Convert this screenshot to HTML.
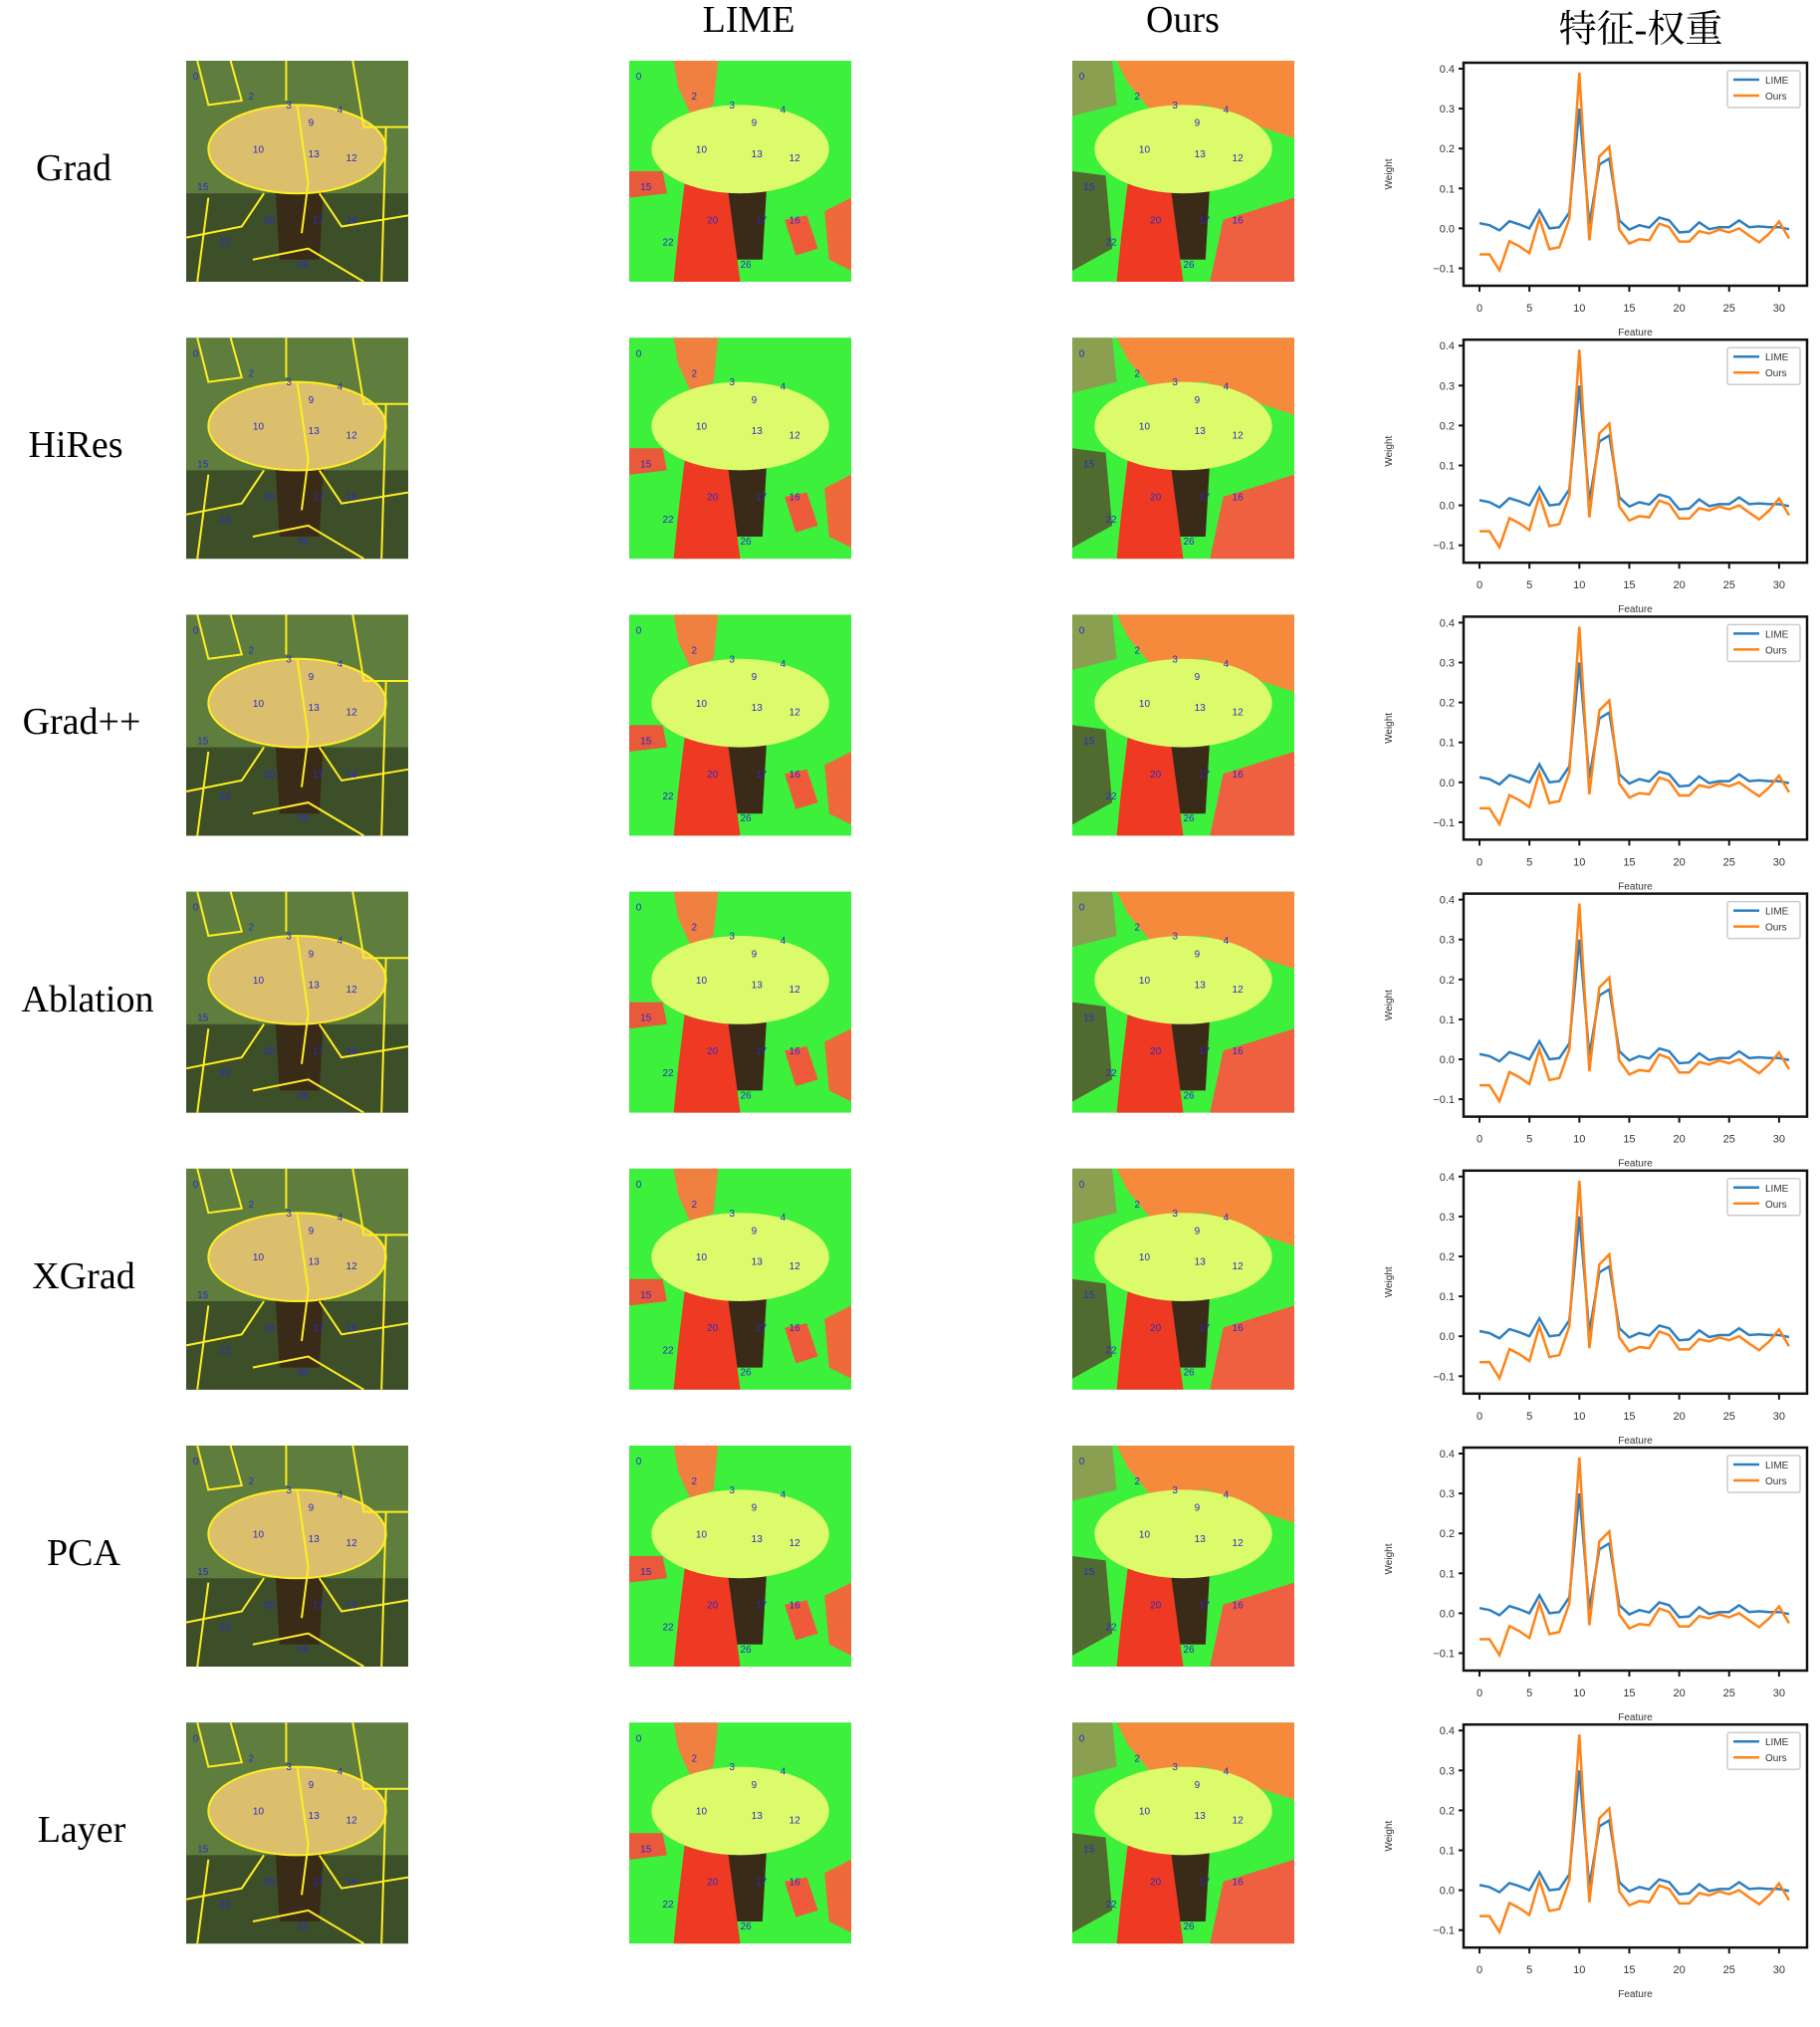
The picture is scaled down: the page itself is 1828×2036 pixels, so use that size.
<!DOCTYPE html>
<html><head><meta charset="utf-8">
<style>
body{margin:0;background:#fff;}
#root{position:relative;width:1828px;height:2036px;overflow:hidden;background:#fff;font-family:"Liberation Serif","Noto Serif CJK SC",serif;}
.coltitle{position:absolute;font-size:38px;color:#000;transform:translateX(-50%);white-space:nowrap;}
.rowlabel{position:absolute;font-size:38px;color:#000;transform:translate(-50%,-50%);white-space:nowrap;}
svg{position:absolute;left:0;top:0;}
</style></head><body>
<div id="root">
<div class="coltitle" style="left:752px;top:-2px">LIME</div>
<div class="coltitle" style="left:1188px;top:-2px">Ours</div>
<div class="coltitle" style="left:1648px;top:-2px;font-family:'Liberation Serif','Noto Serif CJK SC',serif">特征-权重</div>
<svg id="svg" width="1828" height="2036"></svg>
</div>
<script>
const methods=["Grad","HiRes","Grad++","Ablation","XGrad","PCA","Layer"];
const features=[0,1,2,3,4,5,6,7,8,9,10,11,12,13,14,15,16,17,18,19,20,21,22,23,24,25,26,27,28,29,30,31];
const limeWeights=[0.013,0.008,-0.005,0.018,0.01,0,0.045,0,0.003,0.04,0.30,0.01,0.16,0.175,0.02,-0.003,0.008,0.002,0.027,0.02,-0.01,-0.008,0.015,-0.002,0.003,0.003,0.02,0.003,0.005,0.003,0.003,-0.002];
const oursWeights=[-0.065,-0.065,-0.105,-0.032,-0.045,-0.062,0.025,-0.052,-0.047,0.025,0.39,-0.03,0.18,0.205,-0.003,-0.038,-0.027,-0.03,0.012,0.003,-0.033,-0.033,-0.007,-0.013,-0.003,-0.01,0,-0.018,-0.035,-0.013,0.017,-0.025];
const yTicks=[-0.1,0.0,0.1,0.2,0.3,0.4];
const yTickLabels=["−0.1","0.0","0.1","0.2","0.3","0.4"];
const xTicks=[0,5,10,15,20,25,30];
const xTickLabels=["0","5","10","15","20","25","30"];

const NS="http://www.w3.org/2000/svg";
const svg=document.getElementById('svg');
const root=document.getElementById('root');
function mk(tag,attrs,parent){const e=document.createElementNS(NS,tag);for(const k in attrs)e.setAttribute(k,attrs[k]);(parent||svg).appendChild(e);return e;}
const ROW=278.2;

function image(g,x,y,w,h,kind){
  const P=(px,py)=>(x+px*w).toFixed(1)+","+(y+py*h).toFixed(1);
  const poly=(pts,fill,extra)=>mk('polygon',Object.assign({points:pts.map(p=>P(p[0],p[1])).join(' '),fill:fill},extra||{}),g);
  let bg=kind==='orig'?'#5f7d3c':'#3cf03c';
  mk('rect',{x:x,y:y,width:w,height:h,fill:bg},g);
  if(kind==='orig'){
    mk('rect',{x:x,y:y+h*0.6,width:w,height:h*0.4,fill:'#3d4f28'},g);
  }
  if(kind==='lime'){
    poly([[0.2,0],[0.4,0],[0.38,0.2],[0.28,0.25],[0.22,0.12]],'#f08040');
    poly([[0,0.5],[0.15,0.5],[0.17,0.6],[0,0.62]],'#e85a3a');
    poly([[0.88,0.68],[1,0.62],[1,0.95],[0.9,0.9]],'#ee6a3a');
    poly([[0.7,0.72],[0.8,0.7],[0.85,0.85],[0.75,0.88]],'#ee5a3a');
  }
  if(kind==='ours'){
    poly([[0.2,0],[1,0],[1,0.35],[0.85,0.3],[0.6,0.2],[0.35,0.22],[0.25,0.1]],'#f58a3c');
    poly([[0,0],[0.18,0],[0.2,0.2],[0,0.25]],'#8aa050');
    poly([[0,0.5],[0.15,0.52],[0.18,0.85],[0,0.95]],'#506a30');
    poly([[0.68,0.72],[1,0.62],[1,1],[0.62,1]],'#ee6040');
  }
  const capFill=kind==='orig'?'#dcbf6c':'#dcfb6a';
  const stemFill='#3a2b18';
  mk('polygon',{points:[P(0.4,0.55),P(0.62,0.55),P(0.6,0.9),P(0.42,0.9)].join(' '),fill:stemFill},g);
  if(kind!=='orig'){
    poly([[0.25,0.55],[0.44,0.55],[0.5,1],[0.2,1],[0.22,0.8]],'#ee3a22');
  }
  mk('ellipse',{cx:x+0.5*w,cy:y+0.4*h,rx:0.4*w,ry:0.2*h,fill:capFill},g);
  if(kind==='orig'){
    const lines=[[[0.05,0],[0.1,0.2],[0.25,0.18],[0.2,0]],[[0.45,0],[0.45,0.18]],[[0.75,0],[0.8,0.3],[1,0.3]],[[0.5,0.2],[0.55,0.55],[0.52,0.78]],[[0.35,0.6],[0.25,0.75],[0,0.8]],[[0.6,0.6],[0.7,0.75],[1,0.7]],[[0.1,0.62],[0.05,1]],[[0.3,0.9],[0.55,0.85],[0.8,1]],[[0.9,0.3],[0.88,1]]];
    lines.forEach(l=>mk('polyline',{points:l.map(p=>P(p[0],p[1])).join(' '),fill:'none',stroke:'#ffee22','stroke-width':2},g));
    mk('ellipse',{cx:x+0.5*w,cy:y+0.4*h,rx:0.4*w,ry:0.2*h,fill:'none',stroke:'#ffee22','stroke-width':2},g);
  }
  const nums=[[0,0.03,0.05],[2,0.28,0.14],[3,0.45,0.18],[4,0.68,0.2],[9,0.55,0.26],[10,0.3,0.38],[13,0.55,0.4],[12,0.72,0.42],[15,0.05,0.55],[20,0.35,0.7],[17,0.57,0.7],[16,0.72,0.7],[22,0.15,0.8],[26,0.5,0.9]];
  nums.forEach(n=>{const t=mk('text',{x:x+n[1]*w,y:y+n[2]*h+8,'font-size':10,fill:'#2a2acc','font-family':'Liberation Sans, sans-serif'},g);t.textContent=n[0];});
}

function chart(g,top){
  const L=1470,R=1815,T=top,B=top+224;
  const X=f=>1486+f*10.03;
  const Y=v=>top+6+(0.4-v)*401;
  mk('rect',{x:L,y:T,width:R-L,height:B-T,fill:'#fff',stroke:'#111','stroke-width':2.5},g);
  yTicks.forEach((v,i)=>{
    mk('line',{x1:L-5,x2:L,y1:Y(v),y2:Y(v),stroke:'#111','stroke-width':2},g);
    const t=mk('text',{x:L-9,y:Y(v)+4,'font-size':11,'text-anchor':'end',fill:'#333','font-family':'Liberation Sans, sans-serif'},g);
    
    
    t.textContent=yTickLabels[i];
  });
  xTicks.forEach((v,i)=>{
    mk('line',{x1:X(v),x2:X(v),y1:B,y2:B+6,stroke:'#111','stroke-width':2},g);
    const t=mk('text',{x:X(v),y:B+26,'font-size':11,'text-anchor':'middle',fill:'#333','font-family':'Liberation Sans, sans-serif'},g);
    
    
    t.textContent=xTickLabels[i];
  });
  const xl=mk('text',{x:(L+R)/2,y:B+50,'font-size':10,'text-anchor':'middle',fill:'#333','font-family':'Liberation Sans, sans-serif'},g);
  
  
  xl.textContent='Feature';
  const yl=mk('text',{x:0,y:0,'font-size':10,'text-anchor':'middle',fill:'#333','font-family':'Liberation Sans, sans-serif',transform:`translate(1398,${(T+B)/2}) rotate(-90)`},g);
  
  
  yl.textContent='Weight';
  const lp=mk('polyline',{points:features.map((f,i)=>X(f)+','+Y(limeWeights[i])).join(' '),fill:'none',stroke:'#2e7fc0','stroke-width':2.5},g);
  
  
  const op=mk('polyline',{points:features.map((f,i)=>X(f)+','+Y(oursWeights[i])).join(' '),fill:'none',stroke:'#ff8418','stroke-width':2.5},g);
  
  
  const lg=mk('g',{},g);
  
  
  mk('rect',{x:1735,y:top+8,width:73,height:37,fill:'#fff',stroke:'#ccc','stroke-width':1.5,rx:2},lg);
  mk('line',{x1:1741,x2:1767,y1:top+17,y2:top+17,stroke:'#2e7fc0','stroke-width':2.5},lg);
  mk('line',{x1:1741,x2:1767,y1:top+33,y2:top+33,stroke:'#ff8418','stroke-width':2.5},lg);
  const t1=mk('text',{x:1773,y:top+21,'font-size':10,fill:'#333','font-family':'Liberation Sans, sans-serif'},lg);t1.textContent='LIME';
  const t2=mk('text',{x:1773,y:top+37,'font-size':10,fill:'#333','font-family':'Liberation Sans, sans-serif'},lg);t2.textContent='Ours';
}

const labelX=[74,76,82,88,84,84,82];
methods.forEach((m,i)=>{
  const top=61+i*ROW;
  const d=document.createElement('div');
  d.className='rowlabel';
  
  
  d.style.left=labelX[i]+'px';d.style.top=(top+108)+'px';
  d.textContent=m;root.appendChild(d);
  const g1=mk('g',{});
  
  
  image(g1,187,top,223,222,'orig');
  const g2=mk('g',{});
  
  
  image(g2,632,top,223,222,'lime');
  const g3=mk('g',{});
  
  
  image(g3,1077,top,223,222,'ours');
  const gc=mk('g',{});
  
  
  chart(gc,top+2);
});
</script>
</body></html>
